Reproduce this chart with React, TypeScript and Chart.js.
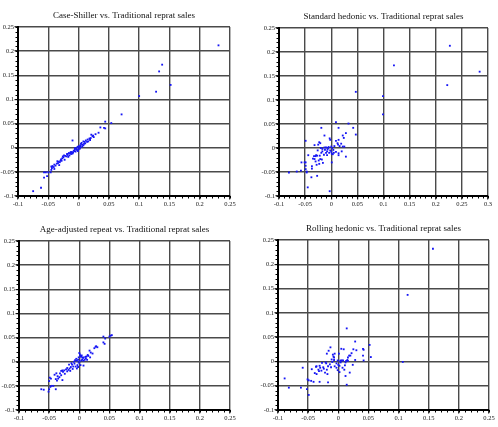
import React, { useEffect, useRef } from "react";
import { Chart, registerables } from "chart.js";

Chart.register(...registerables);

type Pt = [number, number];

// Quarterly index returns, paired [traditional repeat sales, alternative index]
const caseShillerPairs: Pt[] = [
  [0.231, 0.212], [0.138, 0.172], [0.133, 0.158], [0.128, 0.116], [0.152, 0.13], [0.1, 0.107],
  [0.071, 0.069], [0.054, 0.051], [0.044, 0.054], [0.042, 0.041], [0.036, 0.042], [0.044, 0.04],
  [0.033, 0.031], [0.021, 0.027], [0.023, 0.024], [0.018, 0.019], [0.015, 0.017], [0.012, 0.015],
  [-0.01, 0.015], [0.01, 0.012], [0.008, 0.013], [0.005, 0.01], [0.006, 0.006], [0.003, 0.005],
  [0.001, 0.003], [-0.001, 0.002], [0.002, 0.0], [-0.002, 0.001], [-0.004, -0.002], [-0.003, -0.004],
  [-0.006, -0.004], [-0.007, -0.007], [-0.008, -0.006], [-0.009, -0.01], [-0.005, -0.008], [-0.011, -0.009],
  [-0.012, -0.013], [-0.014, -0.012], [-0.015, -0.016], [-0.018, -0.015], [-0.017, -0.019], [-0.02, -0.018],
  [-0.022, -0.017], [-0.024, -0.016], [-0.025, -0.02], [-0.027, -0.022], [-0.023, -0.025], [-0.029, -0.024],
  [-0.03, -0.027], [-0.031, -0.03], [-0.033, -0.029], [-0.034, -0.032], [-0.036, -0.033], [-0.032, -0.036],
  [-0.038, -0.037], [-0.04, -0.035], [-0.041, -0.04], [-0.043, -0.038], [-0.045, -0.039], [-0.045, -0.046],
  [-0.046, -0.051], [-0.05, -0.051], [-0.054, -0.051], [-0.057, -0.051], [-0.052, -0.059], [-0.057, -0.062],
  [-0.062, -0.083], [-0.075, -0.09], [0.008, 0.005], [0.004, 0.008], [0.011, 0.009], [0.014, 0.012],
  [0.016, 0.013], [0.019, 0.016], [0.025, 0.022], [0.028, 0.028], [0.0, -0.003], [-0.002, -0.005],
  [0.002, -0.002], [-0.016, -0.011], [-0.019, -0.013], [-0.028, -0.027], [-0.035, -0.028], [-0.026, -0.018],
  [-0.01, -0.012], [-0.013, -0.009], [0.006, 0.002], [0.009, 0.008], [-0.044, -0.042], [-0.04, -0.044],
  [0.02, 0.02], [0.024, 0.025], [-0.006, -0.001], [-0.001, -0.007], [0.003, 0.002],
];

const standardHedonicPairs: Pt[] = [
  [0.227, 0.213], [0.12, 0.172], [0.222, 0.131], [0.284, 0.159], [0.047, 0.117], [0.099, 0.108],
  [0.099, 0.07], [0.009, 0.054], [0.033, 0.051], [0.042, 0.042], [0.014, 0.042], [-0.019, 0.042],
  [0.028, 0.031], [0.047, 0.028], [-0.013, 0.026], [0.022, 0.026], [0.024, 0.021], [-0.003, 0.02],
  [-0.002, 0.017], [-0.049, 0.015], [0.009, 0.015], [0.014, 0.017], [0.012, 0.01], [0.013, 0.007],
  [-0.023, 0.012], [-0.021, 0.01], [-0.032, 0.006], [-0.025, 0.007], [0.019, 0.009], [0.022, 0.003],
  [0.025, 0.003], [0.02, -0.007], [0.028, -0.018], [0.001, -0.03], [-0.003, -0.09], [-0.045, -0.082],
  [-0.027, -0.058], [-0.038, -0.061], [-0.081, -0.051], [-0.066, -0.049], [-0.058, -0.047], [-0.057, -0.03],
  [-0.051, -0.03], [-0.049, -0.03], [-0.049, -0.037], [-0.049, -0.044], [-0.047, -0.049], [-0.047, -0.051],
  [-0.037, -0.038], [-0.037, -0.043], [-0.044, -0.015], [-0.033, -0.017], [-0.03, -0.017], [-0.027, -0.016],
  [-0.032, -0.023], [-0.03, -0.028], [-0.028, -0.035], [-0.023, -0.033], [-0.021, -0.023], [-0.018, -0.024],
  [-0.016, -0.031], [-0.022, -0.016], [-0.019, -0.01], [-0.017, -0.007], [-0.014, -0.014], [-0.012, -0.004],
  [-0.01, -0.01], [-0.008, -0.007], [-0.006, 0.0], [-0.004, -0.01], [-0.002, -0.005], [0.0, -0.008],
  [0.003, -0.013], [0.005, -0.01], [0.009, -0.008], [0.014, -0.011], [0.014, -0.015], [-0.01, 0.001],
  [-0.013, 0.001], [-0.005, 0.002], [0.002, 0.0], [0.006, 0.004], [-0.02, 0.0], [-0.017, -0.002],
  [-0.008, -0.015], [0.001, -0.012], [-0.024, -0.026], [-0.035, -0.022], [-0.029, -0.015], [0.016, 0.004],
  [0.0, 0.003], [-0.007, -0.003], [-0.026, -0.005], [0.004, -0.004],
];

const ageAdjustedPairs: Pt[] = [
  [0.052, 0.054], [0.054, 0.055], [0.05, 0.052], [0.04, 0.052], [0.043, 0.048], [0.042, 0.037],
  [0.04, 0.04], [0.028, 0.032], [0.03, 0.03], [0.025, 0.028], [0.027, 0.031], [0.017, 0.023],
  [0.019, 0.019], [0.012, 0.011], [0.015, 0.012], [0.018, 0.009], [0.01, 0.01], [0.007, 0.008],
  [0.005, 0.005], [0.003, 0.01], [0.001, 0.015], [0.0, 0.018], [0.002, 0.012], [0.004, 0.003],
  [0.007, 0.002], [0.009, 0.004], [-0.002, 0.004], [-0.004, 0.002], [-0.001, -0.002], [0.001, 0.001],
  [-0.005, 0.006], [-0.007, 0.003], [-0.009, 0.0], [-0.003, -0.007], [-0.006, -0.01], [-0.002, -0.011],
  [0.002, -0.007], [0.007, -0.008], [-0.01, -0.01], [-0.012, -0.006], [-0.014, -0.011], [-0.016, -0.014],
  [-0.011, -0.015], [-0.018, -0.017], [-0.02, -0.02], [-0.022, -0.016], [-0.025, -0.018], [-0.02, -0.013],
  [-0.024, -0.025], [-0.028, -0.018], [-0.03, -0.019], [-0.032, -0.024], [-0.03, -0.028], [-0.028, -0.038],
  [-0.033, -0.032], [-0.035, -0.035], [-0.037, -0.039], [-0.039, -0.036], [-0.036, -0.03], [-0.041, -0.027],
  [-0.038, -0.024], [-0.047, -0.035], [-0.049, -0.033], [-0.05, -0.04], [-0.046, -0.05], [-0.048, -0.052],
  [-0.043, -0.05], [-0.039, -0.057], [-0.05, -0.057], [-0.051, -0.062], [-0.059, -0.058], [-0.063, -0.057],
  [-0.027, -0.021], [-0.017, -0.006], [0.014, 0.014], [0.022, 0.017], [0.004, 0.013], [0.006, 0.009],
  [-0.001, 0.009], [-0.013, -0.003], [-0.008, -0.004], [0.011, 0.007], [0.013, 0.004], [-0.015, -0.019],
  [-0.004, -0.014],
];

const rollingHedonicPairs: Pt[] = [
  [0.157, 0.232], [0.115, 0.137], [0.107, -0.001], [0.014, 0.068], [0.028, 0.041], [0.052, 0.034],
  [0.054, 0.009], [0.041, 0.026], [0.042, 0.024], [0.041, 0.012], [0.042, 0.002], [0.03, 0.023],
  [0.025, 0.025], [0.02, 0.012], [0.018, 0.012], [0.016, 0.008], [0.005, 0.026], [0.009, 0.025],
  [-0.013, 0.029], [-0.016, 0.022], [-0.019, 0.016], [0.014, -0.048], [0.019, -0.023], [0.012, -0.03],
  [-0.089, -0.035], [-0.082, -0.054], [-0.062, -0.054], [-0.052, -0.057], [-0.049, -0.069], [-0.051, -0.037],
  [-0.049, -0.039], [-0.059, -0.013], [-0.044, -0.016], [-0.041, -0.042], [-0.031, -0.042], [-0.017, -0.043],
  [-0.039, -0.024], [-0.036, -0.026], [-0.032, -0.02], [-0.03, -0.013], [-0.031, -0.009], [-0.027, -0.003],
  [-0.024, -0.015], [-0.022, -0.023], [-0.019, -0.017], [-0.017, -0.01], [-0.014, -0.006], [-0.01, -0.001],
  [-0.007, 0.003], [-0.006, -0.01], [-0.003, -0.013], [-0.001, -0.018], [0.002, -0.022], [0.004, 0.002],
  [0.006, 0.002], [0.008, 0.002], [0.002, -0.009], [-0.003, -0.004], [-0.008, 0.01], [-0.009, 0.014],
  [-0.006, 0.016], [0.001, 0.016], [0.013, 0.001], [0.015, 0.003], [0.011, -0.008], [0.022, 0.017],
  [-0.036, -0.01], [-0.025, -0.012], [-0.02, -0.004], [-0.012, -0.012], [0.01, -0.017], [0.024, -0.007],
  [0.004, -0.002], [-0.001, 0.002], [0.0, -0.007], [-0.028, -0.019], [-0.033, -0.017], [-0.018, -0.026],
  [-0.007, 0.008], [0.007, -0.013], [0.016, 0.001], [0.028, 0.003], [-0.045, -0.04], [-0.037, -0.011],
  [-0.021, -0.002], [-0.011, 0.004], [0.003, 0.0], [0.012, -0.002],
];

const panelTitles = [
  "Case-Shiller vs. Traditional reprat sales",
  "Standard hedonic vs. Traditional reprat sales",
  "Age-adjusted repeat vs. Traditional reprat sales",
  "Rolling hedonic vs. Traditional reprat sales",
];
const panelData = [caseShillerPairs, standardHedonicPairs, ageAdjustedPairs, rollingHedonicPairs];
const xMaxima = [0.25, 0.3, 0.25, 0.25];
const axisMin = -0.1;
const yMax = 0.25;
const majorStep = 0.05;
const minorStep = 0.01;

const PANEL_W = 249;
const PANEL_H = 213;

// plot-area edges inside each panel canvas
const frames = [
  { left: 18, right: 230, top: 27, bottom: 196 },
  { left: 30, right: 239, top: 28, bottom: 196 },
  { left: 19, right: 230, top: 28, bottom: 197 },
  { left: 29, right: 240, top: 27, bottom: 197 },
];

const serif = "'Liberation Serif', 'DejaVu Serif', serif";

const minorTicks = {
  id: "minorTicks",
  afterDraw(chart: any) {
    const ctx = chart.ctx;
    const xs = chart.scales.x;
    const ys = chart.scales.y;
    const { left, bottom } = chart.chartArea;
    ctx.save();
    ctx.strokeStyle = "#000";
    ctx.lineWidth = 1;
    ctx.beginPath();
    for (let i = 0; ; i++) {
      const v = axisMin + i * minorStep;
      if (v > ys.max + 1e-9) break;
      const py = Math.round(ys.getPixelForValue(v)) + 0.5;
      ctx.moveTo(left - 2.5, py);
      ctx.lineTo(left, py);
    }
    for (let i = 0; ; i++) {
      const v = axisMin + i * minorStep;
      if (v > xs.max + 1e-9) break;
      const px = Math.round(xs.getPixelForValue(v)) + 0.5;
      ctx.moveTo(px, bottom);
      ctx.lineTo(px, bottom + 2.5);
    }
    ctx.stroke();
    ctx.restore();
  },
};

function fmt(v: number | string) {
  return String(+(+v).toFixed(3));
}

function Panel({ index }: { index: number }) {
  const ref = useRef<HTMLCanvasElement | null>(null);
  useEffect(() => {
    if (!ref.current) return;
    const f = frames[index];
    const titleLine = 9 * 1.2;
    const titleBottom = 6;
    const chart = new Chart(ref.current, {
      type: "scatter",
      data: {
        datasets: [
          {
            data: panelData[index].map(([x, y]) => ({ x, y })),
            pointStyle: "rect",
            pointRadius: 1.3,
            backgroundColor: "#1515f5",
            borderWidth: 0,
          },
        ],
      },
      options: {
        responsive: false,
        animation: false,
        layout: { padding: { left: 0, right: PANEL_W - f.right, top: 0, bottom: 0 } },
        plugins: {
          legend: { display: false },
          tooltip: { enabled: false },
          title: {
            display: true,
            fullSize: false,
            text: panelTitles[index],
            color: "#111",
            font: { family: serif, size: 9, weight: "normal" },
            padding: { top: f.top - titleLine - titleBottom, bottom: titleBottom },
          },
        },
        scales: {
          x: {
            type: "linear",
            min: axisMin,
            max: xMaxima[index],
            afterFit: (s: any) => {
              s.height = PANEL_H - f.bottom;
            },
            ticks: {
              stepSize: majorStep,
              callback: fmt,
              color: "#222",
              font: { family: serif, size: 6.5 },
              padding: 1,
              maxRotation: 0,
              autoSkip: false,
            },
            grid: { color: "#4a4a4a", lineWidth: 1.4, tickLength: 3.5, tickColor: "#000", tickWidth: 1 },
            border: { color: "#000", width: 2 },
          },
          y: {
            type: "linear",
            min: axisMin,
            max: yMax,
            afterFit: (s: any) => {
              s.width = f.left;
            },
            ticks: {
              stepSize: majorStep,
              callback: fmt,
              color: "#222",
              font: { family: serif, size: 6.5 },
              padding: 0.5,
              autoSkip: false,
            },
            grid: { color: "#4a4a4a", lineWidth: 1.4, tickLength: 3.5, tickColor: "#000", tickWidth: 1 },
            border: { color: "#000", width: 2 },
          },
        },
      },
      plugins: [minorTicks],
    } as any);
    return () => chart.destroy();
  }, [index]);
  return (
    <canvas
      ref={ref}
      width={PANEL_W}
      height={PANEL_H}
      style={{ position: "absolute", left: (index % 2) * PANEL_W, top: Math.floor(index / 2) * PANEL_H, width: PANEL_W, height: PANEL_H }}
    />
  );
}

export default function App() {
  return (
    <div style={{ position: "fixed", left: 0, top: 0, width: 498, height: 427, background: "#fff" }}>
      {[0, 1, 2, 3].map((i) => (
        <Panel key={i} index={i} />
      ))}
    </div>
  );
}
